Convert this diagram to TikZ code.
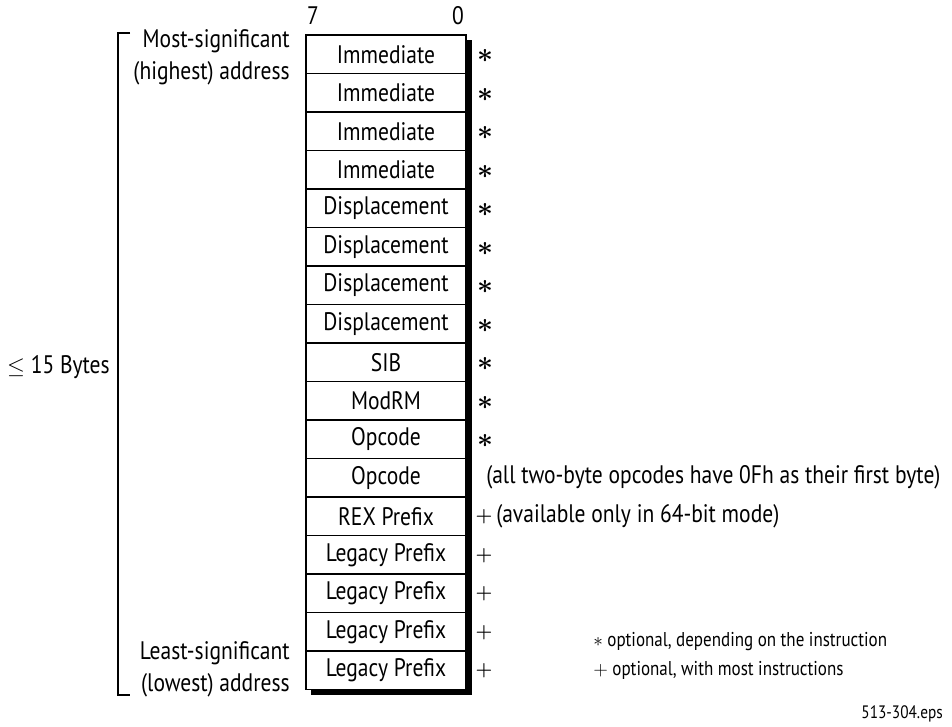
\documentclass[tikz,border=0pt]{standalone}
\usepackage{fontspec}
\setmainfont{PT Sans}[FakeStretch=0.85]
\usetikzlibrary{positioning}

\begin{document}
\begin{tikzpicture}[x=0.75pt,y=-0.75pt,font=\fontsize{19}{24}\selectfont]
    \tikzstyle{field}=[draw=black, line width=1.1pt, fill=white, rectangle, minimum width=120pt, minimum height=28.875pt, inner sep=0pt]
    \tikzstyle{opt}=[inner sep=0pt]
    \tikzstyle{star}=[inner sep=0pt, font=\fontsize{21}{24}\selectfont\boldmath]
    \tikzstyle{plus}=[inner sep=0pt, font=\fontsize{15}{16}\selectfont\boldmath]
    \tikzstyle{note}=[anchor=west, inner sep=0pt]
    \tikzstyle{side}=[anchor=base east, inner sep=0pt]
    \tikzstyle{legend}=[anchor=west, inner sep=0pt, font=\fontsize{15}{18}\selectfont]
    \useasboundingbox (0,0) rectangle (952,727);

    % shadow behind the stack
    \fill[black] (311,40) rectangle (471.5,695);

    \node[field] (imm1)  at (386,54.25)  {Immediate};
    \node[field] (imm2)  at (386,92.75)  {Immediate};
    \node[field] (imm3)  at (386,131.25) {Immediate};
    \node[field] (imm4)  at (386,169.75) {Immediate};
    \node[field] (disp1) at (386,208.25) {Displacement};
    \node[field] (disp2) at (386,246.75) {Displacement};
    \node[field] (disp3) at (386,285.25) {Displacement};
    \node[field] (disp4) at (386,323.75) {Displacement};
    \node[field] (sib)   at (386,362.25) {SIB};
    \node[field] (modrm) at (386,400.75) {ModRM};
    \node[field] (opc1)  at (386,439.25) {Opcode};
    \node[field] (opc2)  at (386,477.75) {Opcode};
    \node[field] (rex)   at (386,516.25) {REX Prefix};
    \node[field] (leg1)  at (386,554.75) {Legacy Prefix};
    \node[field] (leg2)  at (386,593.25) {Legacy Prefix};
    \node[field] (leg3)  at (386,631.75) {Legacy Prefix};
    \node[field] (leg4)  at (386,670.25) {Legacy Prefix};

    % bit numbers
    \node[opt] (hi) at (313,16) {7};
    \node[opt] (lo) at (458,16) {0};

    % optional marks
    \node[star] (s1)  at (485,56)    {$\ast$};
    \node[star] (s2)  at (485,94.5)  {$\ast$};
    \node[star] (s3)  at (485,133)   {$\ast$};
    \node[star] (s4)  at (485,171.5) {$\ast$};
    \node[star] (s5)  at (485,210)   {$\ast$};
    \node[star] (s6)  at (485,248.5) {$\ast$};
    \node[star] (s7)  at (485,287)   {$\ast$};
    \node[star] (s8)  at (485,325.5) {$\ast$};
    \node[star] (s9)  at (485,364)   {$\ast$};
    \node[star] (s10) at (485,402.5) {$\ast$};
    \node[star] (s11) at (485,441)   {$\ast$};
    \node[note] (two) at (486,477.75) {(all two-byte opcodes have 0Fh as their first byte)};
    \node[plus] (p1)  at (484,517) {$+$};
    \node[note] (rexnote) at (496,516.25) {(available only in 64-bit mode)};
    \node[plus] (p2)  at (484,555.5) {$+$};
    \node[plus] (p3)  at (484,594)   {$+$};
    \node[plus] (p4)  at (484,632.5) {$+$};
    \node[plus] (p5)  at (484,671)   {$+$};

    % address labels and bracket
    \node[side] (most1)  at (290,48)  {Most-significant};
    \node[side] (most2)  at (290,80)  {(highest) address};
    \node[side] (least1) at (290,659) {Least-significant};
    \node[side] (least2) at (290,691) {(lowest) address};
    \node[opt, anchor=east] (len) at (110,367) {$\leq$ 15 Bytes};

    \coordinate (tt) at (130,33);
    \coordinate (tc) at (118,33);
    \coordinate (bc) at (118,695);
    \coordinate (bt) at (130,695);
    \draw[line width=0.8pt] (tt) -- (tc) -- (bc) -- (bt);

    % legend
    \node[legend] (lg1) at (593,642) {$\ast$ optional, depending on the instruction};
    \node[legend] (lg2) at (593,670) {$+$ optional, with most instructions};
    \node[opt, anchor=east, font=\fontsize{13.5}{16}\selectfont] (fig) at (943,714) {513-304.eps};
\end{tikzpicture}
\end{document}
